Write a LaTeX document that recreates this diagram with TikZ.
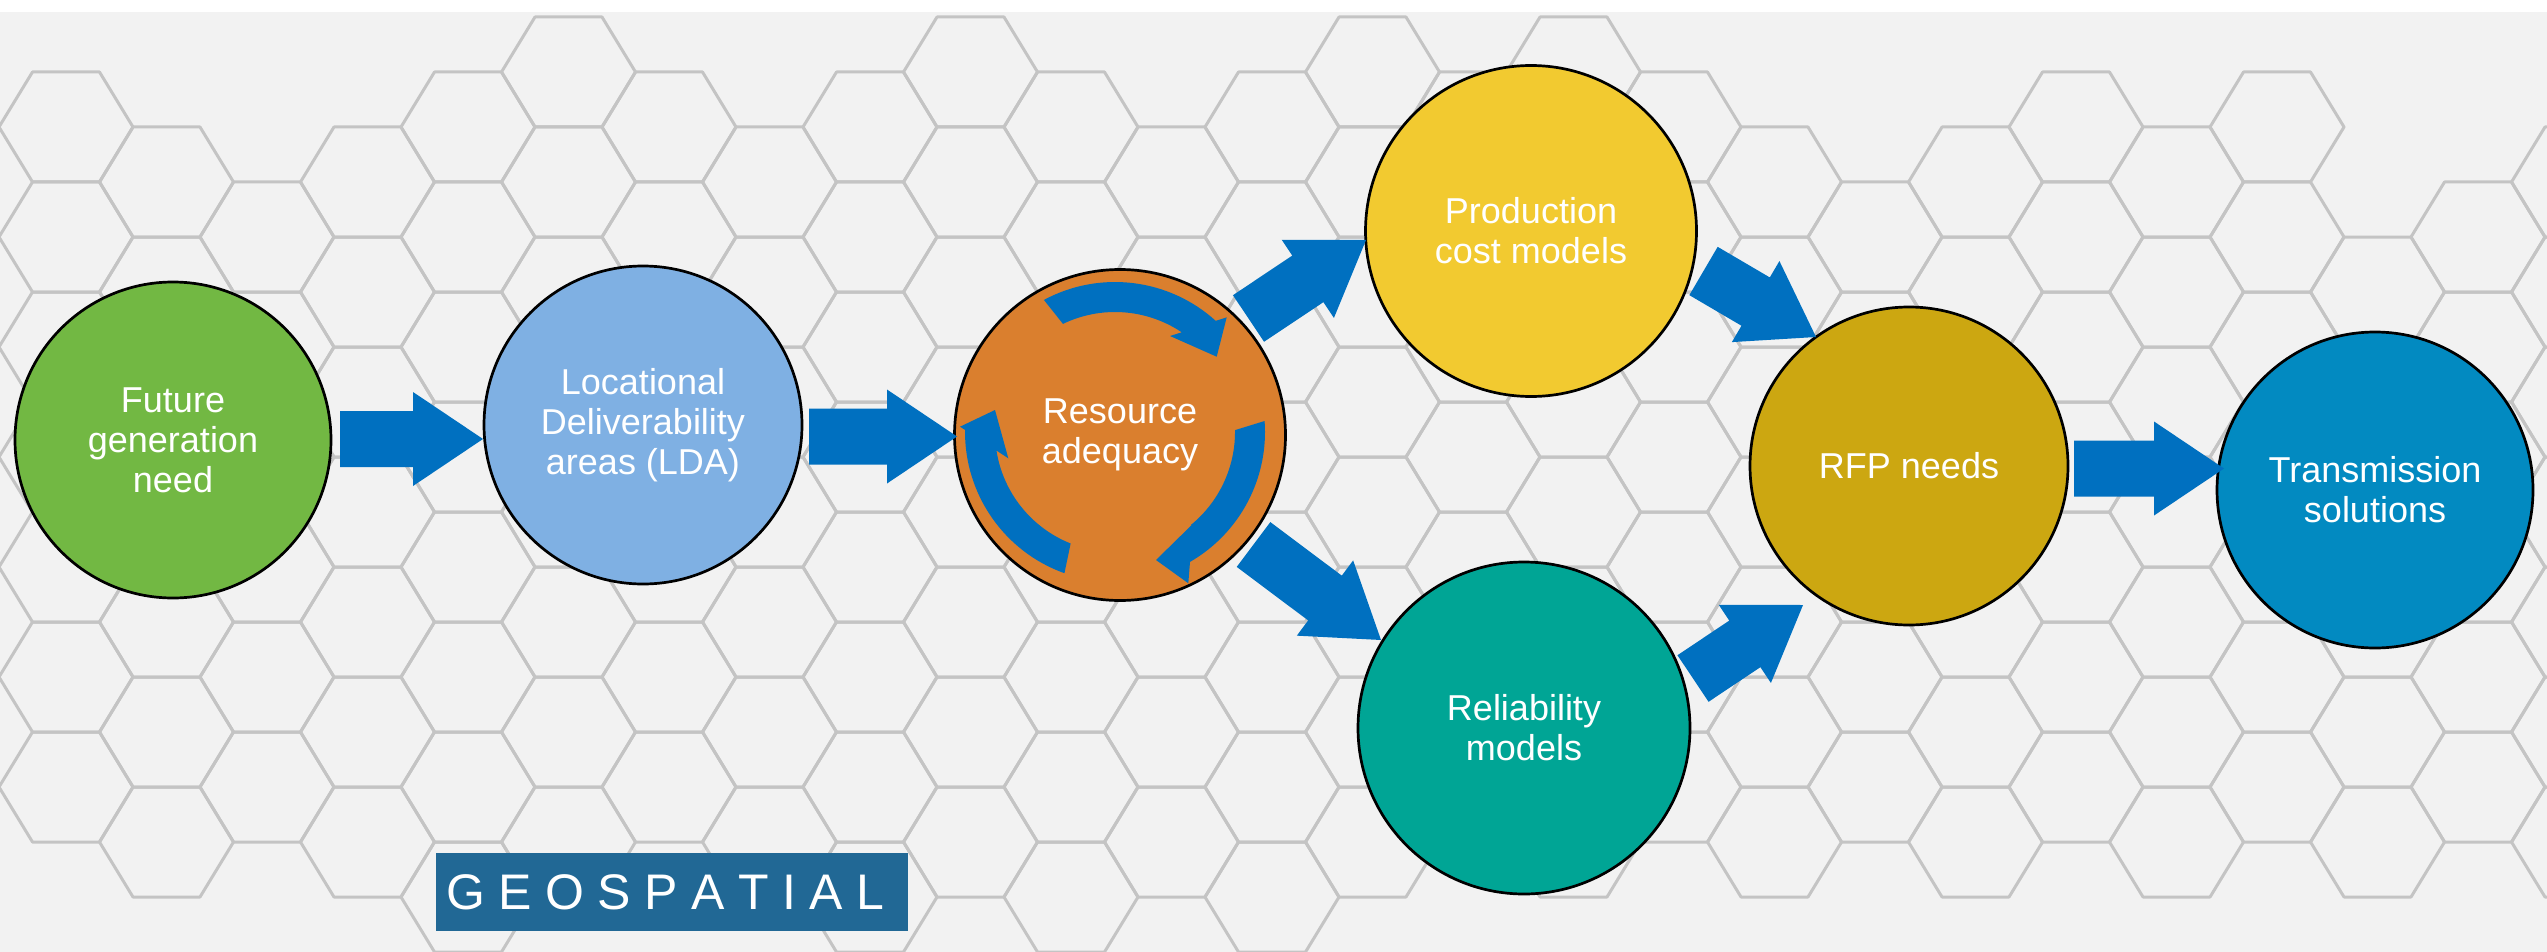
\documentclass[tikz,border=0pt]{standalone}
\usepackage{fontspec}
\setmainfont{Liberation Sans}
\usetikzlibrary{calc}

\definecolor{bggray}{HTML}{F2F2F2}
\definecolor{hexgray}{HTML}{C4C4C4}
\definecolor{flowblue}{HTML}{0070C0}
\definecolor{cgreen}{HTML}{72B843}
\definecolor{clightblue}{HTML}{7FB0E3}
\definecolor{corange}{HTML}{DA7F2E}
\definecolor{cyellow}{HTML}{F2CA30}
\definecolor{cteal}{HTML}{00A595}
\definecolor{cgold}{HTML}{CCA711}
\definecolor{cblue}{HTML}{028AC1}
\definecolor{geoblue}{HTML}{216895}

% block arrow from tail coordinate #1 to tip coordinate #2
\newcommand\flowarrow[2]{%
  \path ($(#2)!70pt!(#1)$) coordinate (fahead);
  \fill[flowblue] ($(#1)!28pt!90:(#2)$) -- ($(fahead)!28pt!90:(#2)$)
    -- ($(fahead)!47pt!90:(#2)$) -- (#2) -- ($(fahead)!47pt!-90:(#2)$)
    -- ($(fahead)!28pt!-90:(#2)$) -- ($(#1)!28pt!-90:(#2)$) -- cycle;}

\begin{document}
\begin{tikzpicture}[x=1pt,y=-1pt,
  hexline/.style={draw=hexgray, line width=3pt, line join=round},
  stage/.style={circle, draw=black, line width=2.7pt, text=white, align=center,
    inner sep=0pt, font=\fontsize{36}{40}\selectfont},
  cycarrow/.style={fill=flowblue},
]
\useasboundingbox (0,0) rectangle (2547,952);
\fill[white] (0,0) rectangle (2547,952);
\fill[bggray] (0,12) rectangle (2547,952);

% honeycomb background: column / first centre y / number of cells
\begin{scope}
  \clip (0,12) rectangle (2547,952);
  \foreach \i/\ya/\n in {0/127/7, 1/182/7, 2/237/6, 3/182/7, 4/127/8, 5/72/8,
      6/127/7, 7/182/7, 8/127/8, 9/72/8, 10/127/8, 11/182/7, 12/127/8, 13/72/8,
      14/127/7, 15/72/8, 16/127/7, 17/182/7, 18/237/6, 19/182/7, 20/127/7,
      21/182/7, 22/127/7, 23/292/6, 24/237/6, 25/182/7}{
    \foreach \j in {1,...,\n}{
      \draw[hexline] ({66+100.5*\i-67}, {\ya+110*(\j-1)}) -- ++(33.5,-55)
        -- ++(67,0) -- ++(33.5,55) -- ++(-33.5,55) -- ++(-67,0) -- cycle;
    }
  }
\end{scope}

% stages
\node[stage, fill=cgreen, minimum size=316pt] (fut) at (173,440) {Future\\generation\\need};
\node[stage, fill=clightblue, minimum size=318pt] (lda) at (643,425) {Locational\\Deliverability\\areas (LDA)};
\node[stage, fill=corange, minimum size=331pt] (ra) at (1120,435) {};
\node[stage, fill=cyellow, minimum size=331pt] (pcm) at (1531,231) {Production\\cost models};
\node[stage, fill=cteal, minimum size=332pt] (rel) at (1524,728) {Reliability\\models};
\node[stage, fill=cgold, minimum size=318pt] (rfp) at (1909,466) {RFP needs};
\node[stage, fill=cblue, minimum size=316pt] (trans) at (2375,490) {Transmission\\solutions};

% cycle of three curved arrows inside the resource adequacy stage
\coordinate (rac) at (1115,432);
\fill[cycarrow] ([shift={(rac)}]-118.3:150) arc[start angle=-118.3, end angle=-47.8, radius=150]
  -- (1226.7,317.3) -- (1216.7,356.7) -- (1170,336)
  -- ([shift={(rac)}]-56.2:120) arc[start angle=-56.2, end angle=-115.7, radius=120] -- cycle;
\fill[cycarrow] ([shift={(rac)}]-4.2:150) arc[start angle=-4.2, end angle=60, radius=150]
  -- (1188.3,583.3) -- (1156,560) -- (1191.7,525)
  -- ([shift={(rac)}]50.7:120) arc[start angle=50.7, end angle=-0.9, radius=120] -- cycle;
\fill[cycarrow] ([shift={(rac)}]109.7:150) arc[start angle=109.7, end angle=180.8, radius=150]
  -- (960,426.7) -- (995,410) -- (1008.3,458.3)
  -- ([shift={(rac)}]171.1:120) arc[start angle=171.1, end angle=111.7, radius=120] -- cycle;
\node[text=white, align=center, font=\fontsize{36}{40}\selectfont, inner sep=0pt] (ratext) at (ra) {Resource\\adequacy};

% connector end points
\coordinate (a1s) at (340,439);    \coordinate (a1e) at (483,439);
\coordinate (a2s) at (809,436.5);  \coordinate (a2e) at (957,436.5);
\coordinate (a3s) at (1248.5,318.5); \coordinate (a3e) at (1366,240);
\coordinate (a4s) at (1253.5,544.5); \coordinate (a4e) at (1381,640);
\coordinate (a5s) at (1703.5,271); \coordinate (a5e) at (1816,337);
\coordinate (a7s) at (1693,678.5); \coordinate (a7e) at (1803,605);
\coordinate (a6s) at (2074,468.5); \coordinate (a6e) at (2224,468.5);

\flowarrow{a1s}{a1e}
\flowarrow{a2s}{a2e}
\flowarrow{a3s}{a3e}
\flowarrow{a4s}{a4e}
\flowarrow{a5s}{a5e}
\flowarrow{a7s}{a7e}
\flowarrow{a6s}{a6e}

% label box
\node[fill=geoblue, minimum width=472pt, minimum height=78pt, inner sep=0pt, text=white,
  font=\fontsize{50}{50}\selectfont] (geo) at (672,892)
  {G\kern13.5pt E\kern13.5pt O\kern13.5pt S\kern13.5pt P\kern13.5pt A\kern13.5pt T\kern13.5pt I\kern13.5pt A\kern13.5pt L\kern13.5pt};
\end{tikzpicture}
\end{document}
